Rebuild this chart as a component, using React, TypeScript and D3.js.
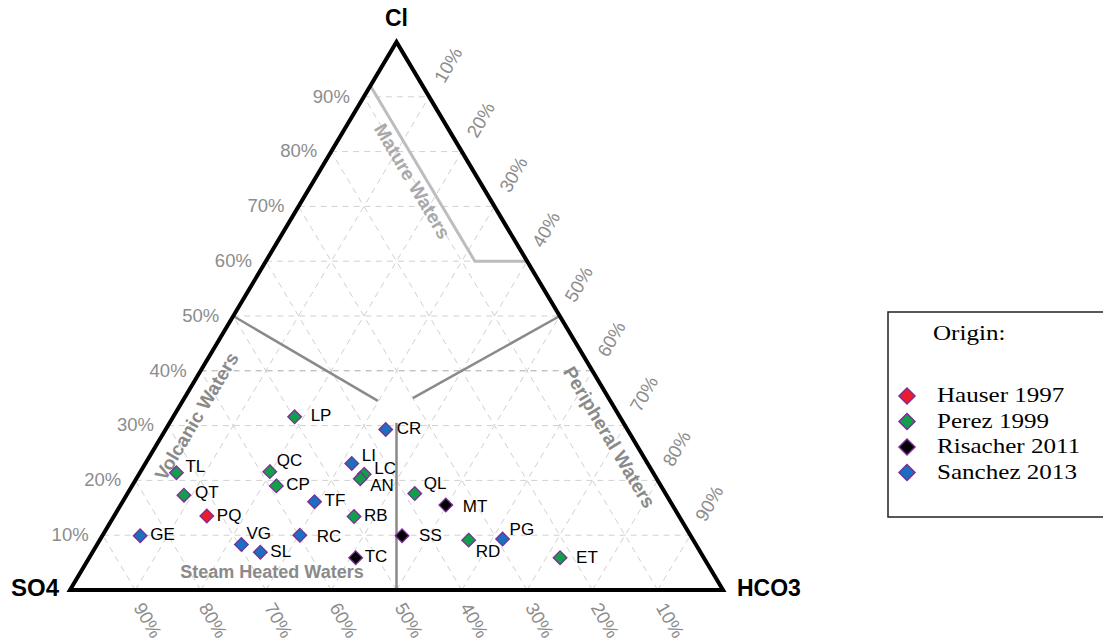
import * as d3 from "d3";
import React from "react";

// sample compositions in percent: Cl, SO4, HCO3
const names = ["LP", "CR", "TL", "QC", "LI", "LC", "AN", "QT", "CP", "TF", "PQ", "RB", "GE", "VG", "SL", "RC", "TC", "SS", "QL", "MT", "RD", "PG", "ET"];
const cl = [31.6, 29.3, 21.4, 21.6, 23.1, 21.1, 20.3, 17.3, 19.0, 16.1, 13.5, 13.4, 9.9, 8.3, 6.9, 10.0, 5.9, 9.9, 17.6, 15.5, 9.1, 9.3, 5.9];
const so4 = [49.8, 37.0, 73.0, 58.6, 45.3, 44.4, 45.4, 73.9, 58.9, 54.5, 72.3, 49.8, 84.3, 69.6, 67.4, 59.8, 53.3, 44.2, 38.4, 34.7, 34.4, 29.1, 22.0];
const hco3 = [18.6, 33.7, 5.6, 19.8, 31.6, 34.5, 34.3, 8.8, 22.1, 29.4, 14.2, 36.8, 5.8, 22.1, 25.7, 30.2, 40.8, 45.9, 44.0, 49.8, 56.5, 61.6, 72.1];
const origin = ["Perez 1999", "Sanchez 2013", "Perez 1999", "Perez 1999", "Sanchez 2013", "Perez 1999", "Perez 1999", "Perez 1999", "Perez 1999", "Sanchez 2013", "Hauser 1997", "Perez 1999", "Sanchez 2013", "Sanchez 2013", "Sanchez 2013", "Sanchez 2013", "Risacher 2011", "Risacher 2011", "Perez 1999", "Risacher 2011", "Perez 1999", "Sanchez 2013", "Perez 1999"];

const origins = ["Hauser 1997", "Perez 1999", "Risacher 2011", "Sanchez 2013"];
const originColors = ["#ec1c2c", "#10a04a", "#000000", "#1a6fc0"];

const ticks = [10, 20, 30, 40, 50, 60, 70, 80, 90];

// field boundaries, [Cl, SO4, HCO3]
const matureLine = [[92, 8, 0], [60, 8, 32], [60, 0, 40]];
const volcanicLine = [[50, 50, 0], [34.5, 35.6, 29.9]];
const peripheralLine = [[50, 0, 50], [35, 30, 35]];
const steamLine = [[30.5, 34.75, 34.75], [0, 50, 50]];

// label nudges for crowded points
const labelOffset: Record<string, [number, number]> = {
  LP: [16, 0], CR: [11, 0], TL: [9, -5], QC: [7, -10], LI: [10, -7], LC: [10, -5], AN: [10, 8],
  QT: [11, -2], VG: [5, -10], RC: [17, 2], TC: [9, 0], SS: [17, 1], QL: [9, -9], MT: [17, 2],
  RD: [7, 12], PG: [7, -9], ET: [16, 1],
};

const xScale = d3.scaleLinear().domain([0, 100]).range([70, 723]);
const yScale = d3.scaleLinear().domain([0, 100]).range([590, 42]);
const color = d3.scaleOrdinal<string, string>().domain(origins).range(originColors);

const proj = (c: number, s: number, h: number): [number, number] => {
  const t = c + s + h;
  const C = (100 * c) / t;
  const H = (100 * h) / t;
  return [xScale(H + C / 2), yScale(C)];
};

const line = d3.line<number[]>().x((d) => proj(d[0], d[1], d[2])[0]).y((d) => proj(d[0], d[1], d[2])[1]);

const diamond = (r: number) => `M0,${-r}L${r},0L0,${r}L${-r},0Z`;

const sans = "'Liberation Sans', Arial, sans-serif";
const serif = "'Liberation Serif', 'Times New Roman', serif";
const ANG = (Math.atan2(548, 326) * 180) / Math.PI;

const App = () => {
  const width = 1103;
  const height = 641;

  const gridLines: { p: number[][]; dark: boolean }[] = [];
  ticks.forEach((t) => {
    gridLines.push({ p: [[t, 100 - t, 0], [t, 0, 100 - t]], dark: t === 40 });
    gridLines.push({ p: [[0, 100 - t, t], [100 - t, 0, t]], dark: false });
    gridLines.push({ p: [[0, t, 100 - t], [100 - t, t, 0]], dark: false });
  });

  const tri = [[0, 100, 0], [0, 0, 100], [100, 0, 0]];

  return (
    <svg width={width} height={height} style={{ position: "absolute", left: 0, top: 0, background: "#fff" }}>
      {gridLines.map((g, i) => (
        <path key={i} d={line(g.p) || ""} stroke={g.dark ? "#a8a8a8" : "#d0d0d0"} strokeWidth={1} strokeDasharray="6,5" fill="none" />
      ))}

      <path d={line(matureLine) || ""} stroke="#bdbdbd" strokeWidth={3} fill="none" />
      {[volcanicLine, peripheralLine, steamLine].map((l, i) => (
        <path key={i} d={line(l) || ""} stroke="#8a8a8a" strokeWidth={2.5} fill="none" />
      ))}

      <path d={(line(tri) || "") + "Z"} stroke="#000" strokeWidth={4} fill="none" strokeLinejoin="miter" />

      {/* tick labels */}
      {ticks.map((t) => {
        const [lx, ly] = proj(t, 100 - t, 0);
        const [rx, ry] = proj(100 - t, 0, t);
        const [bx, by] = proj(0, t, 100 - t);
        return (
          <g key={t} fontFamily={sans} fontSize={18.5} fill="#8c8c8c">
            <text x={lx - 14} y={ly + 1} textAnchor="end" dominantBaseline="middle">{t}%</text>
            <text transform={`translate(${rx + 11},${ry - 15}) rotate(-60)`} dominantBaseline="middle">{t}%</text>
            <text transform={`translate(${bx + 2},${by + 15}) rotate(60)`} dominantBaseline="middle">{t}%</text>
          </g>
        );
      })}

      {/* vertex labels */}
      <g fontFamily={sans} fontWeight="bold" fontSize={23} fill="#000">
        <text x={xScale(50)} y={yScale(100) - 22} textAnchor="middle" dominantBaseline="middle">Cl</text>
        <text x={xScale(0) - 11} y={yScale(0)} textAnchor="end" dominantBaseline="middle" fontSize={24}>SO4</text>
        <text x={xScale(100) + 14} y={yScale(0)} dominantBaseline="middle">HCO3</text>
      </g>

      {/* field names */}
      <g fontFamily={sans} fontWeight="bold" fontSize={19} textAnchor="middle" dominantBaseline="middle">
        <text transform={`translate(411,182) rotate(${ANG})`} fill="#a9a9a9">Mature Waters</text>
        <text transform={`translate(198,417) rotate(${-ANG})`} fill="#8a8a8a">Volcanic Waters</text>
        <text transform={`translate(608,438) rotate(${ANG})`} fill="#8a8a8a">Peripheral Waters</text>
        <text x={272} y={573} fill="#8a8a8a" fontSize={18}>Steam Heated Waters</text>
      </g>

      {/* samples */}
      {names.map((n, i) => {
        const [x, y] = proj(cl[i], so4[i], hco3[i]);
        const [dx, dy] = labelOffset[n] || [10, 0];
        return (
          <g key={n}>
            <path d={diamond(6.8)} transform={`translate(${x},${y})`} fill={color(origin[i])} stroke="#7a2e96" strokeWidth={1.3} />
            <text x={x + dx} y={y + dy} fontFamily={sans} fontSize={17} dominantBaseline="middle" fill="#000">{n}</text>
          </g>
        );
      })}

      {/* legend */}
      <rect x={888} y={312} width={230} height={205} fill="#fff" stroke="#222" strokeWidth={1.5} />
      <text transform="translate(933,340) scale(1.14,1)" fontFamily={serif} fontSize={22}>Origin:</text>
      {origins.map((o, i) => (
        <g key={o} transform={`translate(0,${396 + i * 25.5})`}>
          <path d={diamond(8)} transform="translate(907,0)" fill={color(o)} stroke="#7a2e96" strokeWidth={1.5} />
          <text transform="translate(937,1) scale(1.14,1)" fontFamily={serif} fontSize={22} dominantBaseline="middle">{o}</text>
        </g>
      ))}
    </svg>
  );
};

export default App;
